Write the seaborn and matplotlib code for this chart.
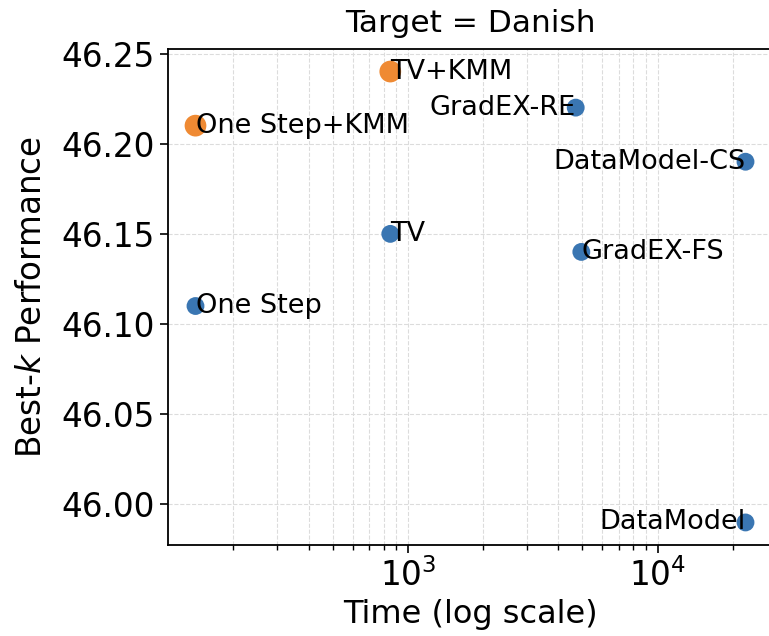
import numpy as np
import pandas as pd
import matplotlib
matplotlib.use("Agg")
import matplotlib.pyplot as plt
import seaborn as sns

sns.set_style("ticks")
plt.rcParams['font.family'] = ['DejaVu Sans']
plt.rcParams['text.color'] = 'black'
plt.rcParams['axes.labelcolor'] = 'black'
plt.rcParams['xtick.color'] = 'black'
plt.rcParams['ytick.color'] = 'black'

#########
# data  #
#########

methods = ["One Step", "One Step+KMM", "TV", "TV+KMM",
           "GradEX-RE", "GradEX-FS", "DataModel-CS", "DataModel"]
times = [141, 141, 850, 850, 4700, 4950, 22500, 22500]
scores = [46.11, 46.21, 46.15, 46.24, 46.22, 46.14, 46.19, 45.99]
kind = ["base", "kmm", "base", "kmm", "base", "base", "base", "base"]

# labels placed to the left of the point for these
right_aligned = ["GradEX-RE", "DataModel-CS", "DataModel"]

df = pd.DataFrame({"method": methods, "time": times, "score": scores, "kind": kind})

########
# plot #
########

fig = plt.figure(figsize=(7.69, 6.36), dpi=100)
ax = fig.add_axes([168 / 769, 1 - 545 / 636, (773 - 168) / 769, (545 - 49) / 636])

sns.scatterplot(data=df, x="time", y="score", hue="kind", size="kind",
                palette={"base": "#3a76b2", "kmm": "#ef8a33"},
                sizes={"base": 165, "kmm": 245},
                linewidth=0, legend=False, ax=ax, zorder=3)
ax.set_xscale("log")

for m, t, s in zip(methods, times, scores):
    ha = "right" if m in right_aligned else "left"
    ax.text(t, s, m, ha=ha, va="center", fontsize=19.5, zorder=4)

ax.grid(True, which="both", linestyle="--", color="#dcdcdc", linewidth=0.8)
ax.set_axisbelow(True)

ax.set_yticks([46.00, 46.05, 46.10, 46.15, 46.20, 46.25])
ax.set_yticklabels(["46.00", "46.05", "46.10", "46.15", "46.20", "46.25"])
ax.tick_params(axis="both", which="major", labelsize=23.5, length=6, width=1.2)
ax.tick_params(axis="x", which="minor", length=3.5, width=1)

ax.set_xlabel("Time (log scale)", fontsize=23)
ax.set_ylabel("Best-$k$ Performance", fontsize=23.5, labelpad=10)
ax.set_title("Target = Danish", fontsize=22.5, pad=12)

for sp in ax.spines.values():
    sp.set_linewidth(1.3)
    sp.set_color("black")

fig.savefig("out.png", dpi=100)
